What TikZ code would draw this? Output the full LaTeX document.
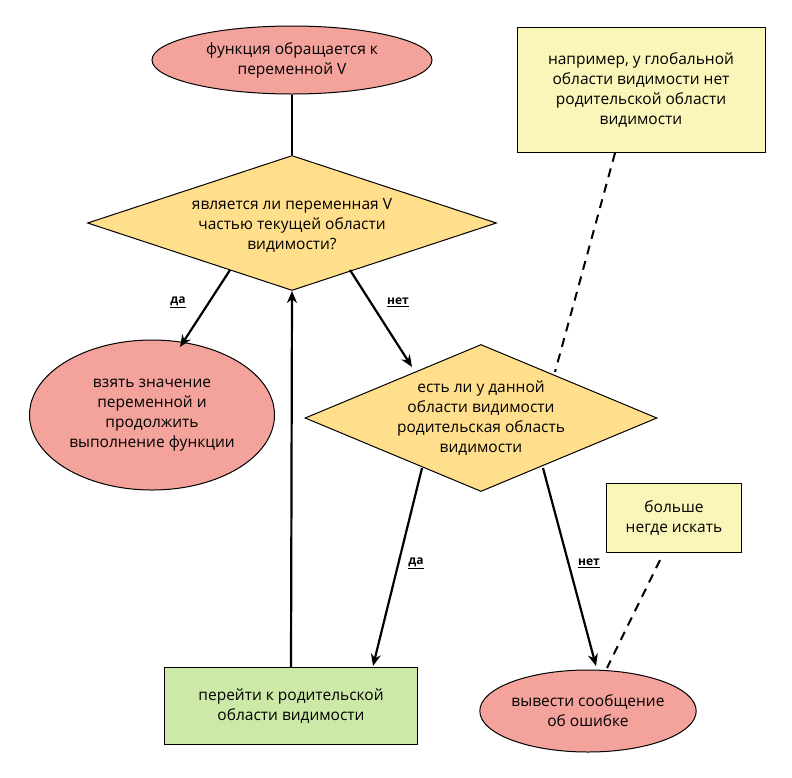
\documentclass[tikz,border=0pt]{standalone}
\usepackage{fontspec}
\setmainfont{Open Sans}
\usetikzlibrary{shapes.geometric,arrows.meta}
\definecolor{red1}{RGB}{243,163,156}
\definecolor{yel1}{RGB}{255,222,140}
\definecolor{note}{RGB}{250,245,185}
\definecolor{grn}{RGB}{205,233,168}
\begin{document}
\begin{tikzpicture}[x=1pt,y=-1pt,
  every node/.style={font=\fontsize{15.5}{20}\selectfont, align=center},
  ell/.style={ellipse, draw, fill=red1, line width=1pt, inner sep=0pt},
  dia/.style={diamond, draw, fill=yel1, line width=1pt, inner sep=0pt},
  box/.style={rectangle, draw, fill=#1, line width=1pt, inner sep=0pt},
  con/.style={line width=2.2pt, -{Stealth[length=12pt,width=10pt]}},
  dsh/.style={line width=2pt, dash pattern=on 9pt off 7pt},
  lbl/.style={font=\bfseries\fontsize{12}{14}\selectfont}]
\useasboundingbox (0,0) rectangle (792,777);
\node[ell, minimum width=280, minimum height=68] (start) at (292,60) {функция обращается к\\переменной V};
\node[dia, minimum width=409, minimum height=135, xscale=1, shape aspect=3] (d1) at (292,223) {};
\node at (292,225) {является ли переменная V\\частью текущей области\\видимости?};
\node[ell, minimum width=245, minimum height=150] (take) at (152,415) {взять значение\\переменной и\\продолжить\\выполнение функции};
\node[dia, minimum width=352, minimum height=147, shape aspect=2.4] (d2) at (481,418) {};
\node at (481,418) {есть ли у данной\\области видимости\\родительская область\\видимости};
\node[box=note, minimum width=248, minimum height=125] (n1) at (641,90) {например, у глобальной\\области видимости нет\\родительской области\\видимости};
\node[box=note, minimum width=135, minimum height=69] (n2) at (674,518) {больше\\негде искать};
\node[box=grn, minimum width=253, minimum height=77] (par) at (291,706) {перейти к родительской\\области видимости};
\node[ell, minimum width=203, minimum height=82] (err) at (588,711) {вывести сообщение\\об ошибке};
\coordinate (a1) at (230,270); \coordinate (a2) at (350,270);
\coordinate (b1) at (422,468); \coordinate (b2) at (543,468);
\draw[line width=2.2pt] (start) -- (d1.north);
\draw[con] (a1) -- (180,347) coordinate (t1);
\draw[con] (a2) -- (412,367) coordinate (t2);
\draw[con] (b1) -- (373,666) coordinate (t3);
\draw[con] (b2) -- (596,666) coordinate (t4);
\draw[con] (par.north) -- (d1.south);
\draw[dsh] (n1.south) ++(-26,0) -- (555,372);
\draw[dsh] (660,560) -- (607,668);
\node[lbl] (l1) at (178,302) {\underline{да}};
\node[lbl] (l2) at (398,302) {\underline{нет}};
\node[lbl] (l3) at (416,563) {\underline{да}};
\node[lbl] (l4) at (589,563) {\underline{нет}};
\end{tikzpicture}
\end{document}
